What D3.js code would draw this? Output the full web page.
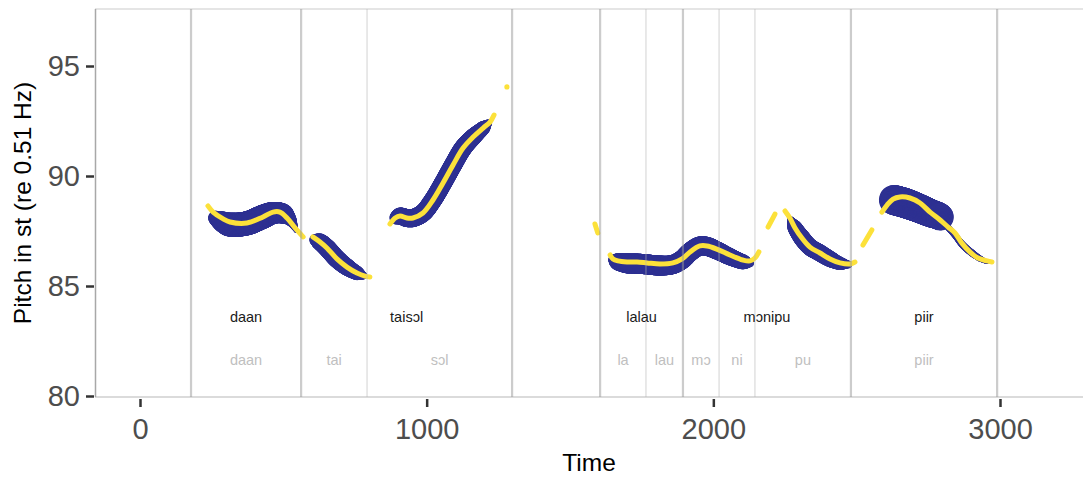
<!DOCTYPE html>
<html>
<head>
<meta charset="utf-8">
<script src="https://cdn.jsdelivr.net/npm/d3@7"></script>
<style>
  body { margin: 0; background: #fff; }
  text { font-family: "Liberation Sans", Arial, sans-serif; }
</style>
</head>
<body>
<script>
//word tier
var wordLabels = ["daan", "taisɔl", "lalau", "mɔnipu", "piir"];
var wordStart = [178, 562, 1605, 1894, 2480];
var wordEnd = [562, 1298, 1894, 2480, 2990];

//syllable tier
var syllLabels = ["daan", "tai", "sɔl", "la", "lau", "mɔ", "ni", "pu", "piir"];
var syllStart = [178, 562, 792, 1605, 1765, 1894, 2020, 2145, 2480];
var syllEnd = [562, 792, 1298, 1765, 1894, 2020, 2145, 2480, 2990];

//axis ticks
var xTicks = [0, 1000, 2000, 3000];
var yTicks = [80, 85, 90, 95];

//smoothed f0 contours: [time ms, pitch st]
var f0Daan = [[237,88.64],[255,88.36],[290,88.05],[314,87.91],[373,87.86],[429,88.14],[464,88.36],[488,88.36],[513,88.09],[541,87.64],[569,87.23]];
var f0Tai = [[603,87.23],[628,87.0],[652,86.73],[687,86.23],[722,85.86],[757,85.59],[785,85.45],[802,85.41]];
var f0Sol = [[872,87.82],[890,88.09],[907,88.18],[931,88.09],[952,88.09],[987,88.32],[1022,88.91],[1057,89.68],[1092,90.5],[1127,91.27],[1162,91.77],[1197,92.18],[1221,92.45],[1235,92.77]];
var f0Dot = [[1280,94.05]];
var f0Pre = [[1587,87.82],[1597,87.41]];
var f0Lalau = [[1640,86.41],[1650,86.23],[1667,86.14],[1699,86.09],[1734,86.09],[1769,86.05],[1814,86.0],[1859,86.05],[1891,86.23],[1919,86.55],[1953,86.82],[1978,86.82],[2012,86.68],[2058,86.41],[2103,86.18],[2128,86.14],[2145,86.27],[2159,86.55]];
var f0Gap1 = [[2191,87.68],[2215,88.27]];
var f0Pu = [[2250,88.41],[2267,88.09],[2285,87.64],[2309,87.18],[2337,86.77],[2372,86.5],[2407,86.23],[2442,86.05],[2477,86.0],[2494,86.09]];
var f0Gap2 = [[2522,86.86],[2553,87.55]];
var f0Piir = [[2588,88.36],[2606,88.68],[2627,88.95],[2651,89.05],[2686,89.0],[2721,88.77],[2756,88.36],[2791,88.0],[2819,87.68],[2843,87.41],[2867,86.95],[2895,86.55],[2923,86.27],[2955,86.14],[2972,86.09]];

//raw f0 band: [time ms, pitch st, intensity dB]
var bandDaan = [[262,88.1,74],[290,87.9,81],[314,87.79,84],[373,87.85,84],[429,88.15,84],[464,88.32,82],[499,88.29,80],[525,88.0,72],[545,87.5,64]];
var bandTai = [[610,87.1,71],[628,87.0,77],[652,86.73,78],[687,86.23,78],[722,85.86,77],[757,85.59,74],[780,85.47,67]];
var bandSol = [[893,88.1,73],[907,88.18,77],[931,88.09,78],[952,88.09,78],[987,88.32,78],[1022,88.91,78],[1057,89.68,78],[1092,90.5,78],[1127,91.27,78],[1162,91.77,77],[1197,92.18,74],[1215,92.4,67]];
var bandLalau = [[1650,86.2,69],[1667,86.1,77],[1699,86.03,80],[1734,86.02,80],[1769,85.98,80],[1814,85.93,80],[1859,85.98,79],[1891,86.2,79],[1919,86.55,79],[1953,86.82,79],[1978,86.8,79],[2012,86.62,78],[2058,86.33,77],[2103,86.1,75],[2128,86.05,68]];
var bandPu = [[2270,88.0,67],[2285,87.64,75],[2309,87.18,77],[2337,86.77,77],[2372,86.5,77],[2407,86.23,76],[2442,86.03,73],[2472,85.98,67]];
var bandPiir = [[2630,88.91,90],[2669,88.77,90],[2714,88.55,89],[2756,88.32,88],[2791,88.14,87],[2800,87.95,66],[2843,87.3,66],[2871,86.85,67],[2902,86.5,67],[2930,86.25,66],[2955,86.09,64]];

var f0Contours = [f0Daan, f0Tai, f0Sol, f0Dot, f0Pre, f0Lalau, f0Gap1, f0Pu, f0Gap2, f0Piir];
var bands = [bandDaan, bandTai, bandSol, bandLalau, bandPu, bandPiir];

(function(){

var width = 1083,
    height = 479;

var panel = {left: 95, right: 1083, top: 9, bottom: 397};

var svg = d3.select("body")
  .append("svg")
  .attr("width", width)
  .attr("height", height);

//scales
var x = d3.scaleLinear().domain([0, 3000]).range([140, 1000]);
var y = d3.scaleLinear().domain([80, 95]).range([396, 66]);
var bandWidth = d3.scaleLinear().domain([60, 90]).range([0, 30]).clamp(true);

//panel frame
svg.append("line")
  .attr("x1", panel.left).attr("x2", panel.right)
  .attr("y1", panel.top).attr("y2", panel.top)
  .attr("stroke", "#dcdcdc").attr("stroke-width", 1.5);
svg.append("line")
  .attr("x1", panel.left).attr("x2", panel.right)
  .attr("y1", panel.bottom).attr("y2", panel.bottom)
  .attr("stroke", "#cfcfcf").attr("stroke-width", 1.5);
svg.append("line")
  .attr("x1", panel.left + 0.5).attr("x2", panel.left + 0.5)
  .attr("y1", panel.top).attr("y2", panel.bottom)
  .attr("stroke", "#a8a8a8").attr("stroke-width", 1.5);

//blue bands, sampled along a smooth centre line
var gBand = svg.append("g");
var centerLine = d3.line()
  .x(function(d){ return x(d[0]); })
  .y(function(d){ return y(d[1]); })
  .curve(d3.curveCatmullRom);

bands.forEach(function(pts){
  var tmp = gBand.append("path").attr("d", centerLine(pts)).attr("fill", "none");
  var node = tmp.node(),
      len = node.getTotalLength();
  var samples = d3.range(0, len, 0.5).concat([len]).map(function(l){
    return node.getPointAtLength(l);
  });
  tmp.remove();

  var wAt = d3.scaleLinear()
    .domain(pts.map(function(d){ return d[0]; }))
    .range(pts.map(function(d){ return bandWidth(d[2]); }))
    .clamp(true);

  gBand.selectAll(null)
    .data(d3.pairs(samples))
    .enter()
    .append("line")
    .attr("x1", function(d){ return d[0].x; })
    .attr("y1", function(d){ return d[0].y; })
    .attr("x2", function(d){ return d[1].x; })
    .attr("y2", function(d){ return d[1].y; })
    .attr("stroke", "#2E3192")
    .attr("stroke-linecap", "round")
    .attr("stroke-width", function(d){
      return wAt(x.invert((d[0].x + d[1].x) / 2));
    });
});

//yellow smoothed contours
var gF0 = svg.append("g");
f0Contours.forEach(function(pts){
  if (pts.length == 1){
    gF0.append("circle")
      .attr("cx", x(pts[0][0]))
      .attr("cy", y(pts[0][1]))
      .attr("r", 2.6)
      .attr("fill", "#FCE13A");
  } else {
    gF0.append("path")
      .attr("d", centerLine(pts))
      .attr("fill", "none")
      .attr("stroke", "#FCE13A")
      .attr("stroke-width", 5)
      .attr("stroke-linecap", "round")
      .attr("stroke-linejoin", "round");
  }
});

//boundaries: syllable-only ones thin, word ones thick
var wordBounds = d3.union(wordStart, wordEnd);
var syllBounds = Array.from(d3.union(syllStart, syllEnd)).filter(function(t){
  return !wordBounds.has(t);
});

svg.append("g").selectAll("line")
  .data(syllBounds)
  .enter()
  .append("line")
  .attr("x1", function(d){ return x(d); })
  .attr("x2", function(d){ return x(d); })
  .attr("y1", panel.top).attr("y2", panel.bottom)
  .attr("stroke", "#b5b5b5")
  .attr("stroke-opacity", 0.4)
  .attr("stroke-width", 1.5);

svg.append("g").selectAll("line")
  .data(Array.from(wordBounds))
  .enter()
  .append("line")
  .attr("x1", function(d){ return x(d); })
  .attr("x2", function(d){ return x(d); })
  .attr("y1", panel.top).attr("y2", panel.bottom)
  .attr("stroke", "#9a9a9a")
  .attr("stroke-opacity", 0.5)
  .attr("stroke-width", 2.2);

//tier labels
svg.append("g").selectAll("text")
  .data(wordLabels)
  .enter()
  .append("text")
  .attr("x", function(d, i){ return x((wordStart[i] + wordEnd[i]) / 2); })
  .attr("y", 322)
  .attr("text-anchor", "middle")
  .attr("font-size", "14.5px")
  .attr("fill", "#1a1a1a")
  .text(function(d){ return d; });

svg.append("g").selectAll("text")
  .data(syllLabels)
  .enter()
  .append("text")
  .attr("x", function(d, i){ return x((syllStart[i] + syllEnd[i]) / 2); })
  .attr("y", 365)
  .attr("text-anchor", "middle")
  .attr("font-size", "14.5px")
  .attr("fill", "#c0c0c0")
  .text(function(d){ return d; });

//axes
var xAxis = svg.append("g")
  .attr("transform", "translate(0," + (panel.bottom + 2) + ")")
  .call(d3.axisBottom(x).tickValues(xTicks).tickSize(8).tickPadding(11).tickFormat(d3.format("d")));

var yAxis = svg.append("g")
  .attr("transform", "translate(94,0)")
  .call(d3.axisLeft(y).tickValues(yTicks).tickSize(8).tickPadding(6));

[xAxis, yAxis].forEach(function(g){
  g.select(".domain").remove();
  g.selectAll(".tick line").attr("stroke", "#333").attr("stroke-width", 2.5);
  g.selectAll(".tick text")
    .attr("font-family", "Liberation Sans, Arial, sans-serif")
    .attr("font-size", "29px")
    .attr("fill", "#4d4d4d");
});

//axis titles
svg.append("text")
  .attr("x", (panel.left + panel.right) / 2)
  .attr("y", 471)
  .attr("text-anchor", "middle")
  .attr("font-size", "24.5px")
  .attr("fill", "#000")
  .text("Time");

svg.append("text")
  .attr("transform", "translate(31," + ((panel.top + panel.bottom) / 2) + ") rotate(-90)")
  .attr("text-anchor", "middle")
  .attr("font-size", "24.5px")
  .attr("fill", "#000")
  .text("Pitch in st (re 0.51 Hz)");

})();
</script>
</body>
</html>
